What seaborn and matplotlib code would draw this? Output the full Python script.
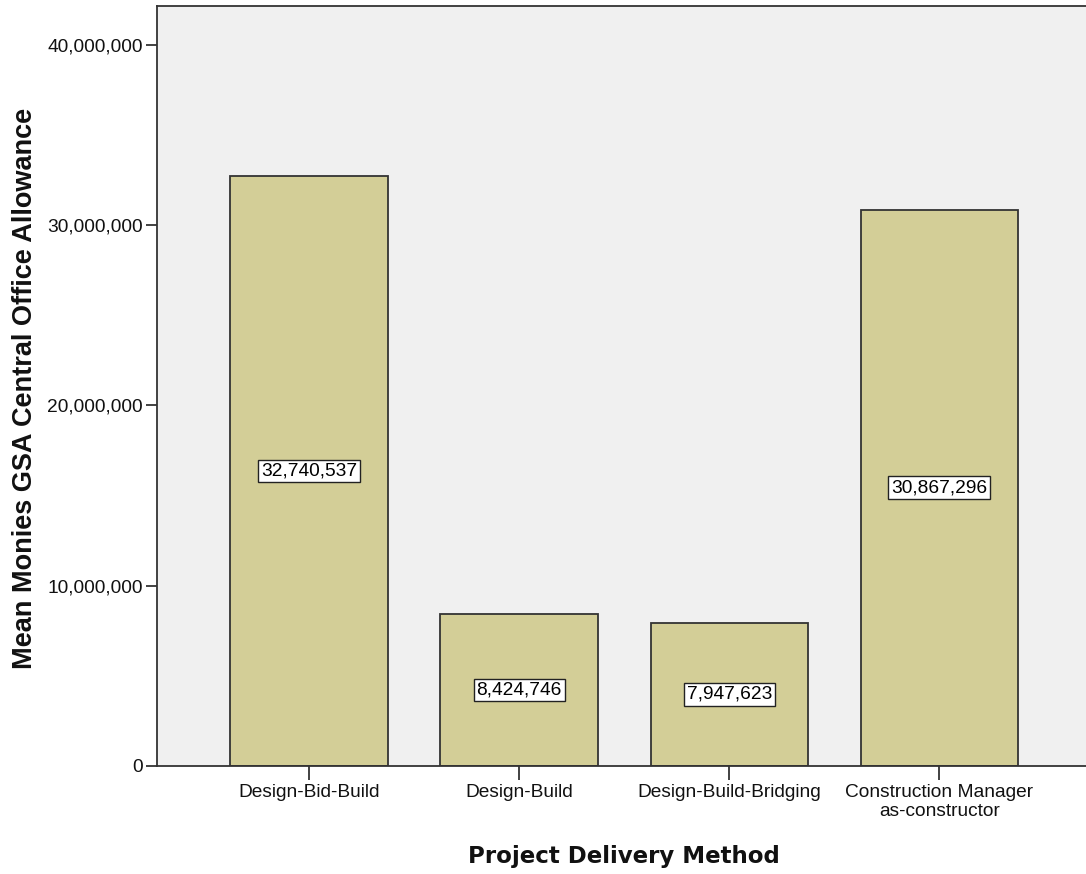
import matplotlib
matplotlib.use("Agg")
import matplotlib.pyplot as plt
import seaborn as sns
import pandas as pd
from matplotlib.ticker import FuncFormatter

methods = ["Design-Bid-Build", "Design-Build", "Design-Build-Bridging",
           "Construction Manager\nas-constructor"]
mean_allowance = [32740537, 8424746, 7947623, 30867296]
y_ticks = [0, 10000000, 20000000, 30000000, 40000000]

df = pd.DataFrame({"method": methods, "allowance": mean_allowance})

sns.set_theme(style="white")
plt.rcParams["font.family"] = ["Liberation Sans", "DejaVu Sans"]

W, H = 1086, 874
fig = plt.figure(figsize=(W / 100, H / 100), dpi=100)
fig.patch.set_facecolor("white")
left_px, right_px, top_px, bottom_px = 157, 1097, 6, 766
ax = fig.add_axes([left_px / W, (H - bottom_px) / H,
                   (right_px - left_px) / W, (bottom_px - top_px) / H])
ax.set_facecolor("#F0F0F0")

sns.barplot(data=df, x="method", y="allowance", ax=ax, width=0.75,
            color="#D3CE97", saturation=1, edgecolor="#333333", linewidth=1.3)

ax.set_xlim(-0.724, 3.75)
ax.set_ylim(0, 42160000)
ax.set_yticks(y_ticks)
ax.yaxis.set_major_formatter(FuncFormatter(lambda v, p: f"{v:,.0f}"))

for c in ax.containers:
    ax.bar_label(c, labels=[f"{v:,.0f}" for v in c.datavalues],
                 label_type="center", fontsize=13.8, color="black",
                 bbox=dict(boxstyle="square,pad=0.15", facecolor="white",
                           edgecolor="#222222", linewidth=1))

for side in ["left", "bottom", "top"]:
    ax.spines[side].set_visible(True)
    ax.spines[side].set_color("#333333")
    ax.spines[side].set_linewidth(1.3)
ax.spines["right"].set_visible(False)

ax.tick_params(axis="y", which="major", direction="out", length=8, width=1.3,
               color="#333333", labelsize=13.8, labelcolor="#111111", pad=2, left=True)
ax.tick_params(axis="x", which="major", direction="out", length=10, width=1.3,
               color="#333333", labelsize=13.8, labelcolor="#111111", pad=3, bottom=True)
for t in ax.get_xticklabels():
    t.set_linespacing(1.15)

ax.set_xlabel("")
ax.set_ylabel("")
fig.text(624 / W, 1 - 856 / H, "Project Delivery Method", ha="center", va="center",
         fontsize=16.5, fontweight="bold", family=["DejaVu Sans"], color="#111111")
fig.text(25 / W, 1 - 388 / H, "Mean Monies GSA Central Office Allowance",
         ha="center", va="center", rotation=90, fontsize=19.5, fontweight="bold",
         family=["Liberation Sans"], color="#111111")

fig.savefig("out.png", dpi=100)
